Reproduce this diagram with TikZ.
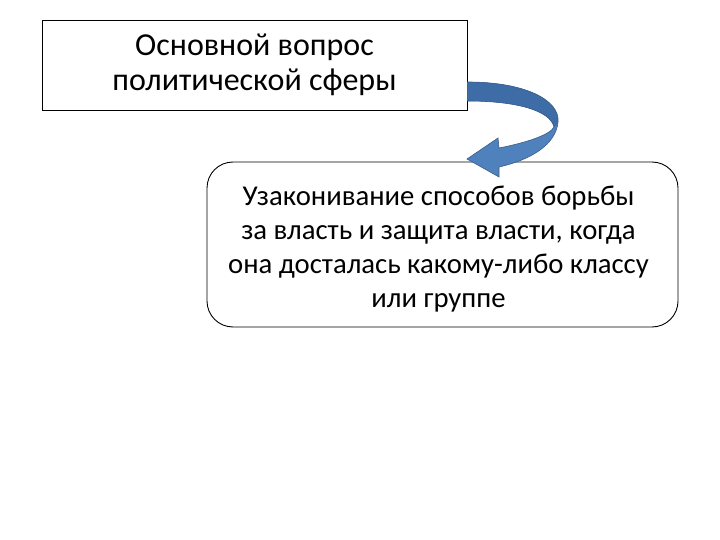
\documentclass[tikz,border=0pt]{standalone}
\usepackage{fontspec}
\setmainfont{Carlito}
\definecolor{arrfill}{RGB}{79,129,189}
\definecolor{arrdark}{RGB}{62,108,166}
\definecolor{arredge}{RGB}{56,93,138}
\tikzset{
  txt/.style={align=center, text=black},
  plainbox/.style={txt, font=\fontsize{32}{35}\selectfont, draw=black, line width=0.9pt, minimum width=425pt, minimum height=90pt, inner sep=0pt},
  roundbox/.style={draw=black, line width=0.9pt, rounded corners=26pt, minimum width=471pt, minimum height=165pt, inner sep=0pt},
  boxtext/.style={txt, font=\fontsize{28.7}{34}\selectfont, inner sep=0pt}
}
\begin{document}
\begin{tikzpicture}[x=1pt,y=-1pt]
\useasboundingbox (0,0) rectangle (720,540);
\node[plainbox] (q) at (254.5,65) {Основной вопрос\\политической сферы};
\node[roundbox] (a) at (442.5,244.5) {};
\node[boxtext] (at) at (438.5,249.5) {Узаконивание способов борьбы\\за власть и защита власти, когда\\она досталась какому-либо классу\\или группе};
\coordinate (s1) at (q.east |- 0,82);
\coordinate (s2) at (q.east |- 0,101);
\coordinate (tip) at (467,159);
\fill[arrfill] (s1) .. controls (525,82) and (560,100) .. (558,122)
  .. controls (556,145) and (530,160) .. (499,167) -- (499,177) -- (tip) -- (498,138) -- (499,148)
  .. controls (525,143) and (550,135) .. (554,127)
  .. controls (550,110) and (515,101) .. (s2) -- cycle;
\fill[arrdark] (s1) .. controls (525,82) and (560,100) .. (558,122)
  .. controls (557,125) .. (554,127)
  .. controls (550,110) and (515,101) .. (s2) -- cycle;
\draw[draw=arredge, line width=0.6pt] (s1) .. controls (525,82) and (560,100) .. (558,122)
  .. controls (556,145) and (530,160) .. (499,167) -- (499,177) -- (tip) -- (498,138) -- (499,148)
  .. controls (525,143) and (550,135) .. (554,127)
  .. controls (550,110) and (515,101) .. (s2);
\end{tikzpicture}
\end{document}
